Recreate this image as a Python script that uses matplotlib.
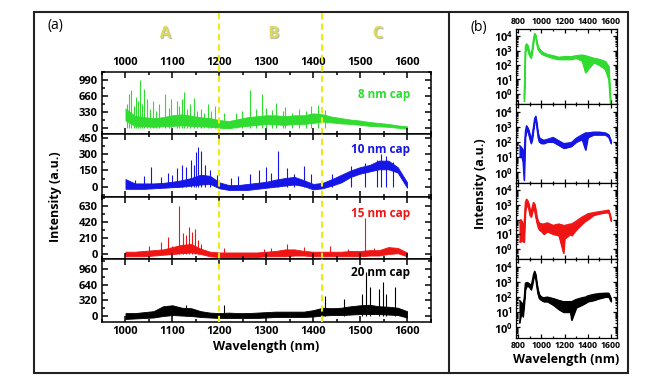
import numpy as np
import matplotlib
matplotlib.use("Agg")
import matplotlib.pyplot as plt
from matplotlib import patheffects
from matplotlib.patches import Rectangle
from matplotlib.lines import Line2D
from matplotlib.ticker import MultipleLocator, AutoMinorLocator, FixedLocator, LogLocator, NullFormatter

plt.rcParams['font.family'] = ['Open Sans', 'DejaVu Sans']
plt.rcParams['font.weight'] = 'bold'
plt.rcParams['axes.labelweight'] = 'bold'
plt.rcParams['mathtext.fontset'] = 'custom'
plt.rcParams['mathtext.rm'] = 'Open Sans:bold'
plt.rcParams['mathtext.bf'] = 'Open Sans:bold'
plt.rcParams['mathtext.it'] = 'Open Sans:bold'

# ---- panel (a): envelope of the noisy spectra (every 20 nm) + sharp peaks
wl_a = np.arange(1000, 1601, 20)

lo_8 = [150, 40, 30, 20, 30, 40, 50, 40, 30, 20, 0, -10, 20, 40, 60, 80, 70, 60, 80, 80, 100, 130, 110, 90, 80, 60, 40, 30, 20, 0, -20]
hi_8 = [400, 250, 220, 200, 220, 260, 280, 250, 220, 200, 160, 140, 180, 220, 240, 260, 260, 240, 260, 260, 300, 280, 230, 200, 170, 150, 120, 100, 80, 50, 30]
pk_8_x = [1003, 1008, 1012, 1018, 1022, 1026, 1030, 1036, 1040, 1045, 1052, 1058, 1066, 1072, 1085, 1092, 1098, 1110, 1115, 1120, 1125, 1132, 1138,
          1145, 1152, 1160, 1168, 1175, 1182, 1190, 1210, 1235, 1248, 1265, 1278, 1290, 1300, 1312, 1320, 1335, 1340, 1355, 1370, 1385, 1395, 1410, 1425]
pk_8_y = [500, 700, 780, 450, 650, 550, 1000, 500, 800, 600, 400, 550, 350, 500, 700, 420, 600, 550, 450, 600, 750, 400, 500,
          620, 350, 400, 300, 500, 350, 450, 300, 300, 350, 780, 400, 700, 420, 380, 520, 350, 440, 300, 400, 350, 450, 480, 380]

lo_10 = [-20, -20, -20, -15, -10, -5, 0, 10, 20, 25, -15, -30, -30, -30, -20, -10, 0, 10, 20, 5, -25, -15, 10, 40, 90, 120, 140, 160, 160, 130, -10]
hi_10 = [70, 30, 30, 30, 35, 45, 60, 80, 110, 100, 40, 15, 15, 25, 35, 45, 65, 80, 90, 60, 25, 35, 70, 110, 150, 180, 200, 240, 240, 180, 40]
pk_10_x = [1020, 1040, 1055, 1075, 1090, 1100, 1110, 1120, 1130, 1140, 1145, 1150, 1155, 1160, 1170, 1180, 1195, 1225, 1240, 1265, 1285, 1300,
           1310, 1325, 1345, 1360, 1380, 1395, 1440, 1480, 1510, 1535, 1545, 1555, 1570]
pk_10_y = [60, 100, 180, 90, 130, 110, 170, 200, 180, 250, 200, 320, 370, 330, 200, 150, 110, 80, 100, 120, 150, 180,
           130, 330, 170, 120, 190, 120, 120, 190, 220, 250, 300, 280, 230]

lo_15 = [-30, -30, -30, -20, -10, 0, 10, 20, 0, -30, -40, -40, -40, -40, -40, -30, -30, -30, -20, -20, -30, -30, -30, -30, -30, -30, -20, -20, 0, 10, -30]
hi_15 = [30, 30, 40, 50, 60, 90, 120, 130, 70, 30, 20, 20, 20, 20, 20, 30, 40, 60, 60, 40, 30, 30, 30, 30, 40, 40, 50, 50, 90, 80, 20]
pk_15_x = [1050, 1075, 1090, 1100, 1115, 1122, 1128, 1135, 1142, 1148, 1155, 1160, 1210, 1295, 1310, 1345, 1380, 1435, 1475, 1510, 1530]
pk_15_y = [110, 150, 220, 110, 620, 280, 250, 350, 290, 320, 180, 130, 80, 70, 80, 130, 90, 110, 70, 470, 80]

lo_20 = [-60, -50, -40, -30, 0, 20, 10, 0, -20, -30, -40, -40, -40, -40, -40, -30, -20, -20, -20, -20, -10, 10, 20, 20, 30, 40, 40, 40, 30, 20, -30]
hi_20 = [60, 60, 80, 100, 200, 220, 170, 160, 100, 70, 60, 70, 60, 60, 70, 80, 90, 90, 90, 90, 120, 170, 160, 170, 200, 220, 230, 200, 190, 170, 100]
pk_20_x = [1100, 1130, 1210, 1425, 1465, 1505, 1513, 1520, 1540, 1548, 1555, 1575]
pk_20_y = [200, 230, 230, 400, 350, 450, 900, 600, 550, 700, 450, 600]

# ---- panel (b): log-scale spectra, lower / upper envelope
wl_b = [810, 820, 830, 840, 850, 860, 870, 880, 890, 900, 910, 920, 930, 940, 950, 960, 970, 980,
        1000, 1020, 1050, 1100, 1150, 1190, 1200, 1250, 1260, 1300, 1350, 1380, 1400, 1450, 1500, 1550, 1580, 1600]
nan = np.nan
b_lo_8 = [nan, nan, nan, nan, 0.3, 800, 1500, 1200, 600, 400, 300, 800, 4000, 12000, 8000, 2500, 1200, 900,
          600, 500, 400, 300, 250, 250, 250, 250, 260, 300, 200, 30, 50, 150, 100, 50, 10, 0.05]
b_hi_8 = [nan, nan, nan, nan, 0.5, 2000, 3000, 2500, 1200, 700, 500, 1500, 6000, 16000, 12000, 4000, 2000, 1400,
          900, 700, 550, 450, 350, 380, 400, 380, 390, 450, 500, 450, 400, 300, 250, 180, 80, 0.1]
b_lo_10 = [10, 10, 10, 5, 0.3, 200, 600, 500, 300, 150, 80, 150, 600, 2000, 3000, 800, 200, 100,
           80, 80, 100, 100, 60, 40, 40, 50, 55, 100, 150, 30, 200, 300, 300, 300, 200, 80]
b_hi_10 = [60, 50, 40, 30, 20, 500, 1200, 900, 600, 300, 150, 300, 1000, 3500, 5000, 1500, 400, 200,
           150, 130, 150, 200, 120, 80, 80, 90, 95, 180, 300, 400, 400, 450, 450, 400, 300, 120]
b_lo_15 = [3, 3, 5, 3, 3, 300, 1000, 800, 500, 200, 150, 300, 600, 400, 150, 60, 30, 20,
           15, 10, 15, 10, 8, 0.5, 5, 10, 8, 20, 50, 80, 100, 200, 250, 300, 300, 80]
b_hi_15 = [60, 100, 80, 50, 60, 1500, 2500, 2000, 1200, 500, 300, 800, 1500, 1200, 500, 150, 80, 60,
           50, 50, 60, 40, 50, 40, 40, 50, 50, 80, 150, 200, 250, 300, 350, 400, 450, 120]
b_lo_20 = [2, 5, 10, 5, 30, 300, 500, 500, 500, 400, 300, 600, 1500, 3000, 1500, 400, 150, 80,
           60, 50, 50, 30, 15, 10, 10, 10, 3, 20, 30, 40, 50, 60, 80, 100, 100, 50]
b_hi_20 = [60, 50, 40, 30, 80, 800, 900, 900, 800, 700, 500, 1200, 3000, 5000, 3000, 800, 300, 150,
           100, 90, 100, 80, 60, 50, 50, 50, 50, 70, 90, 100, 120, 150, 170, 180, 180, 80]

labels = ["8 nm cap", "10 nm cap", "15 nm cap", "20 nm cap"]
colors = ["#2fdc2f", "#1515e6", "#f01515", "#000000"]
a_ticks = [[0, 330, 660, 990], [0, 150, 300, 450], [0, 210, 420, 630], [0, 320, 640, 960]]
a_ylims = [(-130, 1160), (-95, 485), (-65, 743), (-122, 1165)]
label_y = [0.63, 0.75, 0.73, 0.79]
region_x = [1200, 1418]
region_names = ["A", "B", "C"]
region_pos = [1085, 1316, 1538]

a_lo = [lo_8, lo_10, lo_15, lo_20]
a_hi = [hi_8, hi_10, hi_15, hi_20]
a_pkx = [pk_8_x, pk_10_x, pk_15_x, pk_20_x]
a_pky = [pk_8_y, pk_10_y, pk_15_y, pk_20_y]
b_lo = [b_lo_8, b_lo_10, b_lo_15, b_lo_20]
b_hi = [b_hi_8, b_hi_10, b_hi_15, b_hi_20]

fig = plt.figure(figsize=(6.56, 3.88), dpi=100)

# frames around both panels
fig.add_artist(Rectangle((0.052, 0.039), 0.905, 0.930, transform=fig.transFigure,
                         fill=False, lw=1.5, ec="#222222"))
fig.add_artist(Line2D([0.6845, 0.6845], [0.039, 0.969], transform=fig.transFigure, lw=1.5, color="#222222"))

a_bounds = [0.8144, 0.6546, 0.4923, 0.3325, 0.1701]
b_bounds = [0.9253, 0.7320, 0.5284, 0.3325, 0.1289]

for i in range(4):
    # ---- panel (a)
    ax = fig.add_axes([0.1555, a_bounds[i + 1], 0.5015, a_bounds[i] - a_bounds[i + 1]])
    ax.fill_between(wl_a, a_lo[i], a_hi[i], color=colors[i], lw=0.6)
    ax.vlines(a_pkx[i], 0, a_pky[i], color=colors[i], lw=0.8)
    ax.set_xlim(950, 1651)
    ax.set_ylim(*a_ylims[i])
    ax.yaxis.set_major_locator(FixedLocator(a_ticks[i]))
    ax.yaxis.set_minor_locator(AutoMinorLocator(2))
    ax.xaxis.set_major_locator(MultipleLocator(100))
    ax.xaxis.set_minor_locator(MultipleLocator(50))
    ax.tick_params(which="both", direction="in", top=True, right=True, labelsize=8, width=1.1)
    ax.tick_params(which="major", length=4, pad=3)
    ax.tick_params(which="minor", length=2.5)
    ax.tick_params(axis="x", labelbottom=(i == 3), labeltop=(i == 0))
    for s in ax.spines.values():
        s.set_linewidth(1.1)
    ax.text(1606, a_ylims[i][0] + label_y[i] * (a_ylims[i][1] - a_ylims[i][0]), labels[i],
            color=colors[i], fontsize=8.5, ha="right", va="center")
    for xv in region_x:
        ax.axvline(xv, 0, 1.97 if i == 0 else 1, color="#ecec10", lw=1.5,
                   ls=(0, (3, 2)), clip_on=False, zorder=5)
    if i == 0:
        tr = ax.get_xaxis_transform()
        for name, xp in zip(region_names, region_pos):
            ax.text(xp, 1.63, name, transform=tr, color="#dada60", fontsize=12, ha="center", va="center",
                    path_effects=[patheffects.withSimplePatchShadow(offset=(0.8, -0.8), alpha=0.35)])
    if i == 3:
        ax.set_xlabel("Wavelength (nm)", fontsize=9, labelpad=2)

    # ---- panel (b)
    bx = fig.add_axes([0.7866, b_bounds[i + 1], 0.154, b_bounds[i] - b_bounds[i + 1]])
    bx.set_yscale("log")
    bx.fill_between(wl_b, b_lo[i], b_hi[i], color=colors[i], lw=0.8)
    bx.plot(wl_b, b_hi[i], color=colors[i], lw=0.8)
    bx.plot(wl_b, b_lo[i], color=colors[i], lw=0.8)
    bx.set_xlim(780, 1652)
    bx.set_ylim(10 ** -0.7, 10 ** 4.5)
    bx.yaxis.set_major_locator(FixedLocator([1, 10, 100, 1000, 10000]))
    bx.yaxis.set_minor_locator(LogLocator(base=10, subs=np.arange(2, 10), numticks=20))
    bx.yaxis.set_minor_formatter(NullFormatter())
    bx.xaxis.set_major_locator(MultipleLocator(200))
    bx.xaxis.set_minor_locator(MultipleLocator(100))
    bx.tick_params(which="both", direction="in", top=True, right=True, width=0.9)
    bx.tick_params(axis="y", labelsize=8, pad=2)
    bx.tick_params(axis="x", labelsize=6.3, pad=2, labelbottom=(i == 3), labeltop=(i == 0))
    bx.tick_params(which="major", length=3)
    bx.tick_params(which="minor", length=1.5)
    for s in bx.spines.values():
        s.set_linewidth(0.9)
    if i == 3:
        bx.set_xlabel("Wavelength (nm)", fontsize=9, labelpad=2)

fig.text(0.085, 0.492, "Intensity (a.u.)", rotation=90, fontsize=9, ha="center", va="center")
fig.text(0.732, 0.527, "Intensity (a.u.)", rotation=90, fontsize=9, ha="center", va="center")
fig.text(0.084, 0.933, "(a)", fontsize=10, fontweight="normal", ha="center", va="center")
fig.text(0.730, 0.930, "(b)", fontsize=10, fontweight="normal", ha="center", va="center")

fig.savefig("out.png", dpi=100)
